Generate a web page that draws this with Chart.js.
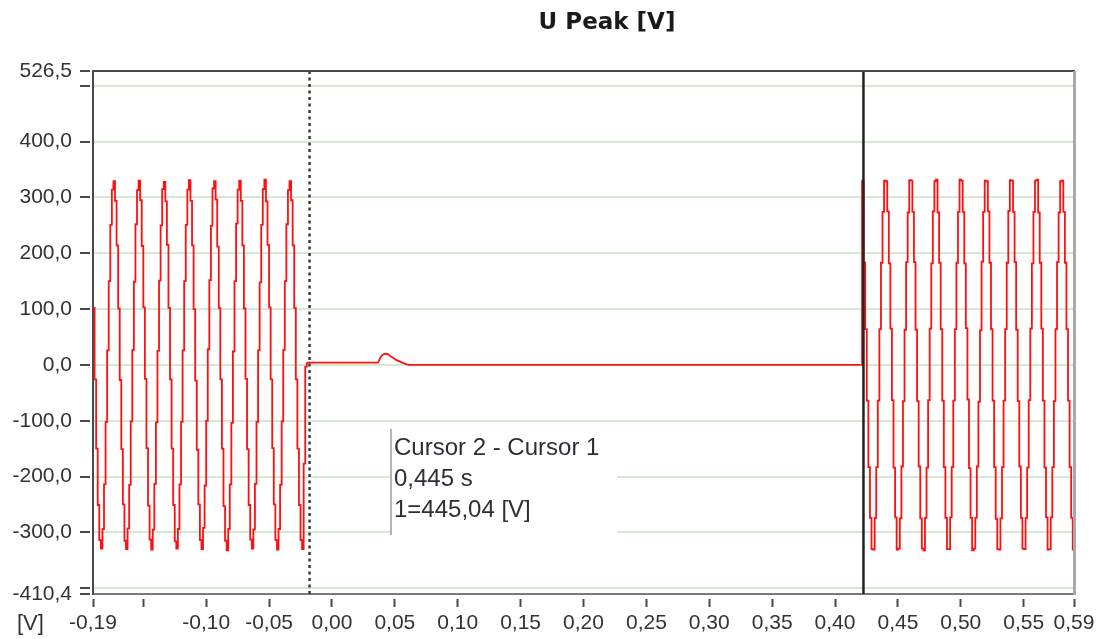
<!DOCTYPE html>
<html><head><meta charset="utf-8">
<script src="https://cdn.jsdelivr.net/npm/chart.js@4.4.1/dist/chart.umd.min.js"></script>
<style>html,body{margin:0;padding:0;background:#fff;}canvas{display:block;}</style>
</head><body>
<canvas id="c" width="1099" height="639"></canvas>
<script>
const chartTitle = 'U Peak [V]';
const unitLabel = '[V]';
const cursorInfo = ['Cursor 2 - Cursor 1', '0,445 s', '1=445,04 [V]'];

const xMin = -0.19, xMax = 0.59;
const xTickValues = [-0.19, -0.15, -0.10, -0.05, 0, 0.05, 0.10, 0.15, 0.20, 0.25, 0.30, 0.35, 0.40, 0.45, 0.50, 0.55, 0.59];
const xHiddenLabels = [-0.15];
const yMin = -410.4, yMax = 526.5;
const yTickValues = [-410.4, -400, -300, -200, -100, 0, 100, 200, 300, 400, 500, 526.5];
const yHiddenLabels = [-400, 500];

const cursor1 = -0.0178;
const cursor2 = 0.4226;

const sampleStep = 0.00125;
const leftStart = -0.19;
const leftVolts = [
  102, -26, -150, -251, -314, -329, -294, -214, -102, 26, 150, 251, 314, 329, 294, 214,
  101, -27, -151, -250, -315, -330, -293, -215, -101, 27, 149, 252, 313, 330, 295, 213,
  103, -25, -149, -252, -313, -331, -295, -213, -103, 25, 151, 250, 315, 328, 293, 215,
  102, -26, -150, -251, -316, -329, -294, -214, -102, 26, 150, 251, 314, 331, 294, 214,
  100, -28, -152, -250, -314, -330, -292, -216, -100, 28, 152, 249, 316, 329, 296, 212,
  102, -26, -150, -253, -315, -332, -294, -214, -104, 24, 150, 253, 314, 330, 294, 214,
  101, -25, -151, -251, -313, -329, -295, -213, -102, 26, 148, 251, 315, 332, 293, 215,
  103, -26, -149, -250, -314, -331, -294, -215, -101, 27, 150, 252, 313, 329, 295, 214,
  102, -26, -150, -251, -314, -330, -177, -3, 4
];
const flatTimes = [-0.02, 0.0365, 0.0385, 0.0410, 0.0435, 0.0470, 0.0510, 0.0550, 0.0585, 0.0610, 0.42025];
const flatVolts = [4, 4, 13, 19, 20, 15, 9, 5, 2, 0, 0];
const rightStart = 0.42025;
const rightVolts = [
  0,
  330, 183, 64, -64, -183, -274, -330, -331, -274, -183, -64, 64, 183, 274, 330, 329,
  275, 182, 65, -63, -184, -273, -331, -329, -275, -182, -65, 63, 184, 273, 331, 330,
  274, 184, 63, -65, -182, -275, -329, -332, -274, -184, -63, 65, 182, 275, 329, 332,
  273, 183, 64, -64, -183, -274, -330, -330, -273, -183, -64, 64, 183, 274, 332, 330,
  274, 182, 66, -62, -185, -274, -332, -329, -274, -182, -66, 62, 185, 274, 330, 329,
  275, 183, 64, -64, -183, -276, -330, -331, -275, -183, -64, 64, 183, 276, 331, 330,
  274, 184, 63, -65, -182, -274, -329, -330, -274, -184, -63, 65, 182, 274, 330, 332,
  273, 183, 65, -64, -184, -273, -331, -330, -273, -183, -65, 64, 184, 273, 329, 330,
  274, 183, 64, -64, -183, -274, -331, -330
];

const RED = '#ff1010';
const GRID = '#d6e9d2';
const LABEL = '#333333';
const TICK_FONT = { family: '"Liberation Sans", Arial, sans-serif', size: 21 };

const leftData = leftVolts.map((v, i) => ({ x: leftStart + i * sampleStep, y: v }));
const flatData = flatVolts.map((v, i) => ({ x: flatTimes[i], y: v }));
const rightData = rightVolts.map((v, i) => ({ x: rightStart + i * sampleStep, y: v }));

const fmt = (v, d) => v.toFixed(d).replace('.', ',');

const overlay = {
  id: 'overlay',
  beforeDatasetsDraw(chart) {
    const ctx = chart.ctx;
    ctx.save();
    ctx.fillStyle = '#ffffff';
    ctx.fillRect(391, 428, 226, 108);
    ctx.strokeStyle = '#b4b4b4';
    ctx.lineWidth = 2;
    ctx.beginPath(); ctx.moveTo(391, 429); ctx.lineTo(391, 535); ctx.stroke();
    ctx.fillStyle = '#2e2e38';
    ctx.font = '24px "Liberation Sans", Arial, sans-serif';
    ctx.textBaseline = 'middle';
    ctx.textAlign = 'left';
    cursorInfo.forEach((t, i) => ctx.fillText(t, 394, 448 + i * 31));
    ctx.restore();
  },
  afterDatasetsDraw(chart) {
    const ctx = chart.ctx, a = chart.chartArea, xs = chart.scales.x;
    ctx.save();
    const c1 = xs.getPixelForValue(cursor1);
    const c2 = xs.getPixelForValue(cursor2);
    ctx.strokeStyle = '#3a3a3a';
    ctx.lineWidth = 2.5;
    ctx.setLineDash([3, 3.5]);
    ctx.beginPath(); ctx.moveTo(c1, a.top); ctx.lineTo(c1, a.bottom); ctx.stroke();
    ctx.setLineDash([]);
    ctx.strokeStyle = '#222222';
    ctx.lineWidth = 2.5;
    ctx.beginPath(); ctx.moveTo(c2, a.top); ctx.lineTo(c2, a.bottom); ctx.stroke();
    ctx.strokeStyle = '#4a4a4a';
    ctx.lineWidth = 2;
    ctx.beginPath(); ctx.moveTo(a.left - 1, a.top); ctx.lineTo(a.right + 1, a.top); ctx.stroke();
    ctx.strokeStyle = '#a8a8a8';
    ctx.lineWidth = 3;
    ctx.beginPath(); ctx.moveTo(a.right + 0.5, a.top); ctx.lineTo(a.right + 0.5, a.bottom + 1); ctx.stroke();
    ctx.restore();
  },
  afterDraw(chart) {
    const ctx = chart.ctx;
    ctx.save();
    ctx.fillStyle = '#1a1a1a';
    ctx.font = 'bold 23px "DejaVu Sans", Verdana, sans-serif';
    ctx.textAlign = 'center';
    ctx.textBaseline = 'middle';
    ctx.fillText(chartTitle, 607, 23);
    ctx.fillStyle = LABEL;
    ctx.font = '22px "Liberation Sans", Arial, sans-serif';
    ctx.textAlign = 'left';
    ctx.fillText(unitLabel, 17, 624);
    ctx.restore();
  }
};

const lineStyle = { borderColor: RED, borderWidth: 1.8, pointRadius: 0, fill: false };

new Chart(document.getElementById('c'), {
  type: 'line',
  data: {
    datasets: [
      Object.assign({ label: 'U Peak', data: leftData, stepped: true }, lineStyle),
      Object.assign({ label: 'U Peak (off)', data: flatData, cubicInterpolationMode: 'monotone' }, lineStyle),
      Object.assign({ label: 'U Peak (on)', data: rightData, stepped: true }, lineStyle)
    ]
  },
  plugins: [overlay],
  options: {
    responsive: false,
    animation: false,
    devicePixelRatio: 1,
    layout: { padding: { left: 0, right: 25, top: 71, bottom: 0 } },
    plugins: { legend: { display: false }, tooltip: { enabled: false }, title: { display: false } },
    scales: {
      x: {
        type: 'linear', min: xMin, max: xMax,
        afterBuildTicks: s => { s.ticks = xTickValues.map(v => ({ value: v })); },
        afterFit: s => { s.height = 45; },
        grid: { drawOnChartArea: false, drawTicks: true, tickLength: 13, tickColor: '#4a4a4a', tickWidth: 2, tickBorderDash: [0, 4, 9, 10] },
        border: { display: true, color: '#7a7a7a', width: 2 },
        ticks: {
          autoSkip: false, maxRotation: 0, minRotation: 0, padding: 4,
          color: LABEL, font: TICK_FONT,
          callback: v => xHiddenLabels.includes(v) ? '' : fmt(v, 2)
        }
      },
      y: {
        type: 'linear', min: yMin, max: yMax,
        afterBuildTicks: s => { s.ticks = yTickValues.map(v => ({ value: v })); },
        afterFit: s => { s.width = 93; },
        grid: {
          drawOnChartArea: true, drawTicks: true, tickLength: 13, tickWidth: 2, lineWidth: 2,
          tickBorderDash: [10, 10],
          color: c => (c.tick && (c.tick.value === yMin || c.tick.value === yMax)) ? 'rgba(0,0,0,0)' : GRID,
          tickColor: '#4a4a4a'
        },
        border: { display: true, color: '#4a4a4a', width: 2 },
        ticks: {
          autoSkip: false, padding: 8, color: LABEL, font: TICK_FONT,
          callback: v => yHiddenLabels.includes(v) ? '' : fmt(v, 1)
        }
      }
    }
  }
});
</script>
</body></html>
